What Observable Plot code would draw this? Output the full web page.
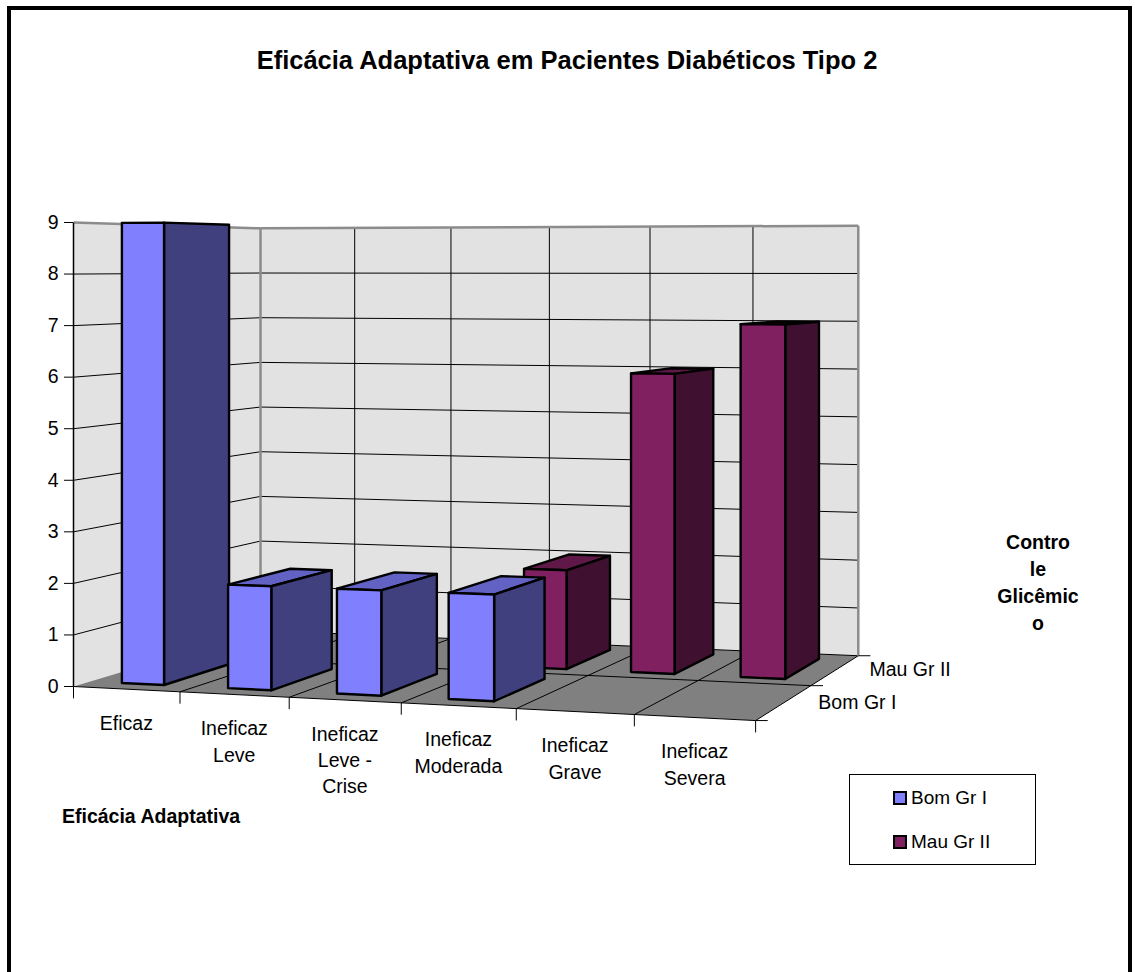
<!DOCTYPE html>
<html lang="pt">
<head>
<meta charset="utf-8">
<title>Eficácia Adaptativa em Pacientes Diabéticos Tipo 2</title>
<script src="https://cdn.jsdelivr.net/npm/d3@7"></script>
<script src="https://cdn.jsdelivr.net/npm/@observablehq/plot@0.6"></script>
<style>
  html, body { margin: 0; background: #fff; }
  body { font-family: "Liberation Sans", Arial, sans-serif; color: #000; }
  #page { position: relative; width: 1135px; height: 972px; overflow: hidden; }
  #frame { position: absolute; left: 7px; top: 6px; width: 1125px; height: 1010px;
           border: 4px solid #000; box-sizing: border-box; }
  #chart { position: absolute; left: 0; top: 0; }
  .title { position: absolute; left: 0; width: 1134px; top: 48px; text-align: center;
           font-weight: bold; font-size: 25.5px; line-height: 1; }
  .axis-title { position: absolute; font-weight: bold; font-size: 19.5px; }
  #depth-title { left: 978px; width: 120px; top: 529px; line-height: 27px; text-align: center; white-space: pre; }
  #category-title { left: 62px; top: 804px; line-height: 24px; }
  #legend { position: absolute; left: 849px; top: 774px; width: 187px; height: 91px;
            border: 1px solid #000; box-sizing: border-box; background: #fff; }
  .item { position: absolute; left: 43px; font-size: 19px; line-height: 22px; display: flex; align-items: center; }
  .swatch { width: 10px; height: 10px; border: 2px solid #000; margin-right: 4px; }
</style>
</head>
<body>
<div id="page">
  <div id="frame"></div>
  <div class="title" id="title"></div>
  <div class="axis-title" id="depth-title"></div>
  <div class="axis-title" id="category-title"></div>
  <div id="legend"></div>
</div>
<script>
// ---- data ----
const chartTitle = "Eficácia Adaptativa em Pacientes Diabéticos Tipo 2";
const categoryTitle = "Eficácia Adaptativa";
const depthTitleLines = ["Contro", "le", "Glicêmic", "o"];
const categories = ["Eficaz", "Ineficaz\nLeve", "Ineficaz\nLeve -\nCrise", "Ineficaz\nModerada", "Ineficaz\nGrave", "Ineficaz\nSevera"];
const seriesNames = ["Bom Gr I", "Mau Gr II"];   // front row first
const bomGrI = [9, 2, 2, 2, 0, 0];
const mauGrII = [0, 0, 0, 2, 6, 7];
const valueTicks = [0, 1, 2, 3, 4, 5, 6, 7, 8, 9];

// ---- styling ----
const shades = {
  "Bom Gr I": {front: "#8080ff", side: "#40407f", top: "#6262c4"},
  "Mau Gr II": {front: "#802060", side: "#401030", top: "#601848"}
};
const wallFill = "#e2e2e2";
const floorFill = "#808080";
const edgeGray = "#8c8c8c";

// ---- 3-D scene ----
// World X runs along the categories (0..n), Z from the front (0) to the back (1) of the floor,
// Y is the value. The camera looks level at eyeHeight, turned so the right side comes forward.
const camera = {eyeHeight: 8.15, vanishX: 3.52, depthShift: 1.42, depthRecede: 0.154, sideRecede: -0.0125};
function project(X, Z, Y) {
  const w = 1 + camera.sideRecede * X + camera.depthRecede * Z;
  return {
    q: (X + camera.depthShift * Z - camera.vanishX) / w + camera.vanishX,
    p: camera.eyeHeight - (camera.eyeHeight - Y) / w
  };
}

const nCat = categories.length;
const vMax = valueTicks[valueTicks.length - 1];
const barWidth = 0.4;          // share of a category
const rowGap = 0.16;           // gap in front of / behind a bar, as share of its row
const rowDepth = 1 / seriesNames.length;

// polygons (walls, floor, bar faces), as vertex rows grouped by id
const surfaces = [];
const barFaces = [];
function addPolygon(target, id, fill, corners) {
  for (const [X, Z, Y] of corners) target.push({id, fill, ...project(X, Z, Y)});
}
addPolygon(surfaces, "left-wall", wallFill, [[0, 0, 0], [0, 1, 0], [0, 1, vMax], [0, 0, vMax]]);
addPolygon(surfaces, "back-wall", wallFill, [[0, 1, 0], [nCat, 1, 0], [nCat, 1, vMax], [0, 1, vMax]]);
addPolygon(surfaces, "floor", floorFill, [[0, 0, 0], [nCat, 0, 0], [nCat, 1, 0], [0, 1, 0]]);

// straight segments (grid, edges, ticks)
function seg(a, b) {
  const s = project(...a), e = project(...b);
  return {x1: s.q, y1: s.p, x2: e.q, y2: e.p};
}
const gridLines = [];
for (const v of valueTicks.slice(1, -1)) {
  gridLines.push(seg([0, 0, v], [0, 1, v]));
  gridLines.push(seg([0, 1, v], [nCat, 1, v]));
}
for (let i = 1; i < nCat; i++) {
  gridLines.push(seg([i, 1, 0], [i, 1, vMax]));
  gridLines.push(seg([i, 0, 0], [i, 1, 0]));
}
for (let k = 1; k < seriesNames.length; k++) gridLines.push(seg([0, k * rowDepth, 0], [nCat, k * rowDepth, 0]));
gridLines.push(seg([0, 1, 0], [nCat, 1, 0]));
gridLines.push(seg([0, 0, 0], [nCat, 0, 0]));
gridLines.push(seg([nCat, 0, 0], [nCat, 1, 0]));

const wallEdges = [
  seg([0, 0, vMax], [0, 1, vMax]),
  seg([0, 1, vMax], [nCat, 1, vMax]),
  seg([0, 1, 0], [0, 1, vMax]),
  seg([nCat, 1, 0], [nCat, 1, vMax])
];

// bars: back row first, then each row left to right
const rows = [
  {name: seriesNames[1], values: mauGrII, index: 1},
  {name: seriesNames[0], values: bomGrI, index: 0}
];
for (const row of rows) {
  const z0 = row.index * rowDepth + rowGap * rowDepth;
  const z1 = (row.index + 1) * rowDepth - rowGap * rowDepth;
  row.values.forEach((v, i) => {
    if (!(v > 0)) return;
    const x0 = i + (1 - barWidth) / 2, x1 = x0 + barWidth;
    const c = shades[row.name];
    const key = `${row.name}-${i}`;
    // top face only when it faces the camera
    if (project(x0, z1, v).p > project(x0, z0, v).p)
      addPolygon(barFaces, key + "-top", c.top, [[x0, z0, v], [x1, z0, v], [x1, z1, v], [x0, z1, v]]);
    addPolygon(barFaces, key + "-side", c.side, [[x1, z0, 0], [x1, z1, 0], [x1, z1, v], [x1, z0, v]]);
    addPolygon(barFaces, key + "-front", c.front, [[x0, z0, 0], [x1, z0, 0], [x1, z0, v], [x0, z0, v]]);
  });
}

// axes drawn in the scene
const tickDown = 0.23;     // value units
const tickRight = 0.11;    // category units
const axisEdge = [seg([0, 0, 0], [0, 0, vMax])];
const categoryTicks = d3.range(nCat + 1).map(i => {
  const s = project(i, 0, 0);
  return {x1: s.q, y1: s.p, x2: s.q, y2: s.p - tickDown};
});
const depthTicks = d3.range(seriesNames.length + 1).map(k => {
  const s = project(nCat, k * rowDepth, 0);
  return {x1: s.q, y1: s.p, x2: s.q + tickRight, y2: s.p};
});
const categoryLabels = categories.map((label, i) => ({label, ...project(i + 0.5, 0, 0)}));
const seriesLabels = seriesNames.map((label, k) => ({label, ...project(nCat, (k + 0.5) * rowDepth, 0)}));

const chart = Plot.plot({
  width: 1135,
  height: 972,
  marginLeft: 73, marginTop: 0, marginRight: 0, marginBottom: 0,
  style: {fontFamily: "'Liberation Sans', Arial, sans-serif", fontSize: "19.5px", color: "#000", background: "transparent"},
  x: {type: "linear", domain: [0, 6], range: [73, 733], axis: null},
  y: {type: "linear", domain: [0, 9], range: [686, 222], ticks: valueTicks, tickSize: 9, tickPadding: 6, label: null},
  color: {type: "identity"},
  marks: [
    Plot.line(surfaces, {x: "q", y: "p", z: "id", fill: "fill", stroke: null, curve: "linear-closed"}),
    Plot.link(gridLines, {x1: "x1", y1: "y1", x2: "x2", y2: "y2", stroke: "#000", strokeWidth: 1}),
    Plot.link(wallEdges, {x1: "x1", y1: "y1", x2: "x2", y2: "y2", stroke: edgeGray, strokeWidth: 2.5}),
    Plot.link(axisEdge, {x1: "x1", y1: "y1", x2: "x2", y2: "y2", stroke: "#000", strokeWidth: 1.5}),
    Plot.link(categoryTicks, {x1: "x1", y1: "y1", x2: "x2", y2: "y2", stroke: "#000", strokeWidth: 1}),
    Plot.link(depthTicks, {x1: "x1", y1: "y1", x2: "x2", y2: "y2", stroke: "#000", strokeWidth: 1}),
    Plot.line(barFaces, {x: "q", y: "p", z: "id", fill: "fill", stroke: "#000", strokeWidth: 2.4,
                         strokeLinejoin: "round", curve: "linear-closed"}),
    Plot.text(categoryLabels, {x: "q", y: "p", text: "label", lineAnchor: "top", dy: 22, lineHeight: 1.35, fontSize: 19.5}),
    Plot.text(seriesLabels, {x: "q", y: "p", text: "label", textAnchor: "start", dx: 34, fontSize: 19.5})
  ]
});
chart.id = "chart";
document.getElementById("page").appendChild(chart);

document.getElementById("title").textContent = chartTitle;
document.getElementById("category-title").textContent = categoryTitle;
document.getElementById("depth-title").textContent = depthTitleLines.join("\n");

const legend = document.getElementById("legend");
seriesNames.forEach((name, k) => {
  const item = document.createElement("div");
  item.className = "item";
  item.style.top = (12 + k * 44) + "px";
  const sw = document.createElement("span");
  sw.className = "swatch";
  sw.style.background = shades[name].front;
  const label = document.createElement("span");
  label.textContent = name;
  item.append(sw, label);
  legend.appendChild(item);
});
</script>
</body>
</html>
